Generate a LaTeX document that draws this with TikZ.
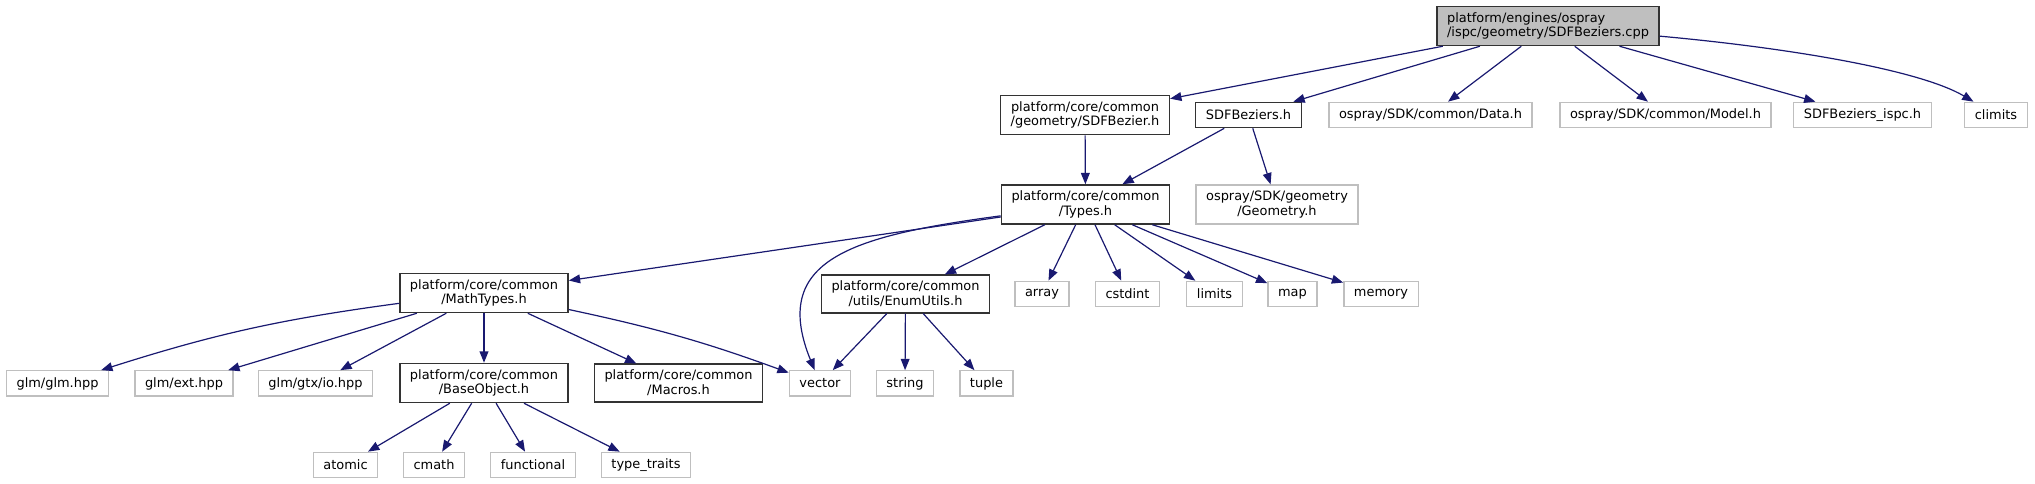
\documentclass[tikz,border=0pt]{standalone}
\usepackage{fontspec}
\setmainfont{DejaVu Sans}
\usepackage{xcolor}
\usetikzlibrary{arrows.meta}

\definecolor{mblue}{HTML}{191970}
\definecolor{sysgray}{HTML}{BFBFBF}

\begin{document}
\begin{tikzpicture}[
    x=0.75pt, y=-0.75pt,
    font=\fontsize{9.7pt}{11pt}\selectfont,
    >={Triangle[length=8.5pt,width=6.6pt]},
    file/.style={draw, align=center, inner xsep=7.6pt, inner ysep=4.5pt,
                 minimum height=19pt, line width=1pt},
    doc/.style={file, draw=black!80},
    sys/.style={file, draw=sysgray},
    src/.style={doc, fill=sysgray, align=left},
    inc/.style={->, draw=mblue, line width=0.9pt},
  ]
  \useasboundingbox (0,0) rectangle (2035,484);

  %% ---- source file and its direct includes -------------------------
  \node[src] (cpp)   at (1548,26)  {platform/engines/ospray\\/ispc/geometry/SDFBeziers.cpp};
  \node[doc] (bez)   at (1085,115) {platform/core/common\\/geometry/SDFBezier.h};
  \node[doc] (bezh)  at (1248.5,115) {SDFBeziers.h};
  \node[sys] (data)  at (1430.5,115) {ospray/SDK/common/Data.h};
  \node[sys] (model) at (1665.5,115) {ospray/SDK/common/Model.h};
  \node[sys] (ispc)  at (1862.5,115) {SDFBeziers\_ispc.h};
  \node[sys] (clim)  at (1996,115) {climits};

  \draw[inc] (cpp) -- (bez);
  \draw[inc] (cpp) -- (bezh);
  \draw[inc] (cpp) -- (data);
  \draw[inc] (cpp) -- (model);
  \draw[inc] (cpp) -- (ispc);
  \draw[inc] (cpp) .. controls (1790,48) and (1920,70) .. (clim);

  %% ---- Types.h ------------------------------------------------------
  \node[doc] (types) at (1085.5,204.5) {platform/core/common\\/Types.h};
  \node[sys] (geom)  at (1277,204.5) {ospray/SDK/geometry\\/Geometry.h};

  \draw[inc] (bez) -- (types);
  \draw[inc] (bezh) -- (types);
  \draw[inc] (bezh) -- (geom);

  %% ---- what Types.h pulls in ----------------------------------------
  \node[doc] (math)  at (484,293)    {platform/core/common\\/MathTypes.h};
  \node[doc] (enum)  at (905.5,294)  {platform/core/common\\/utils/EnumUtils.h};
  \node[sys] (arr)   at (1042,294)   {array};
  \node[sys] (cstd)  at (1127.5,294) {cstdint};
  \node[sys] (lim)   at (1214.5,294) {limits};
  \node[sys] (map)   at (1292.5,294) {map};
  \node[sys] (mem)   at (1381,294)   {memory};

  \draw[inc] (types) -- (math);
  \draw[inc] (types) -- (enum);
  \draw[inc] (types) -- (arr);
  \draw[inc] (types) -- (cstd);
  \draw[inc] (types) -- (lim);
  \draw[inc] (types) -- (map);
  \draw[inc] (types) -- (mem);

  %% ---- fifth row ----------------------------------------------------
  \node[sys] (glm)    at (57.5,383.5) {glm/glm.hpp};
  \node[sys] (ext)    at (184,383.5)  {glm/ext.hpp};
  \node[sys] (io)     at (315.5,383.5) {glm/gtx/io.hpp};
  \node[doc] (base)   at (484,383)    {platform/core/common\\/BaseObject.h};
  \node[doc] (macros) at (678.5,383)  {platform/core/common\\/Macros.h};
  \node[sys] (vec)    at (820,383.5)  {vector};
  \node[sys] (str)    at (905,383.5)  {string};
  \node[sys] (tup)    at (986.5,383.5) {tuple};

  \draw[inc] (types) .. controls (850,236) and (770,260) .. (vec);
  \draw[inc] (math) to[bend right=5] (glm);
  \draw[inc] (math) -- (ext);
  \draw[inc] (math) -- (io);
  \draw[inc] (math) -- (base);
  \draw[inc] (math) -- (macros);
  \draw[inc] (math) to[bend left=4] (vec);
  \draw[inc] (enum) -- (vec);
  \draw[inc] (enum) -- (str);
  \draw[inc] (enum) -- (tup);

  %% ---- BaseObject.h -------------------------------------------------
  \node[sys] (atom)  at (345.5,465) {atomic};
  \node[sys] (cmath) at (434,465)   {cmath};
  \node[sys] (func)  at (533,465)   {functional};
  \node[sys] (trait) at (646,465)   {type\_traits};

  \draw[inc] (base) -- (atom);
  \draw[inc] (base) -- (cmath);
  \draw[inc] (base) -- (func);
  \draw[inc] (base) -- (trait);

\end{tikzpicture}
\end{document}
